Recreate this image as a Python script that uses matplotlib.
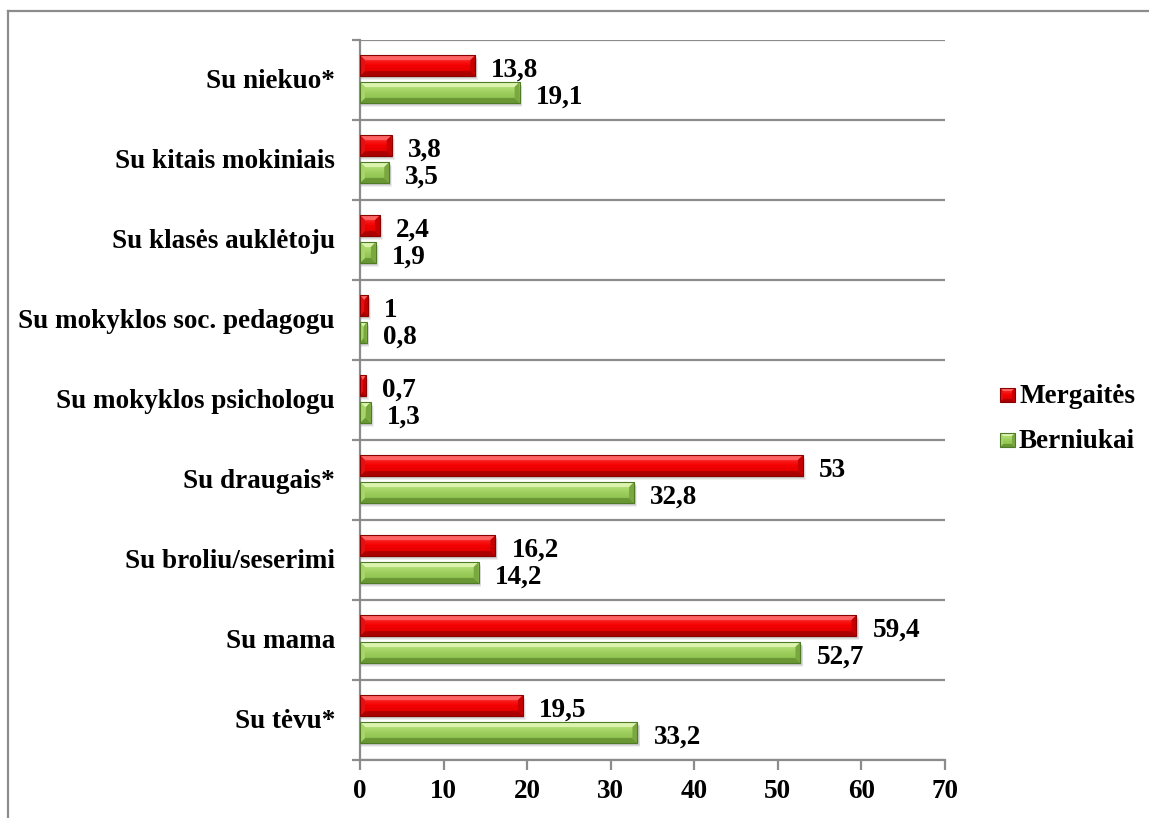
import matplotlib
matplotlib.use("Agg")
import matplotlib.pyplot as plt
import numpy as np
from matplotlib.patches import Polygon, Rectangle
from matplotlib.lines import Line2D
from matplotlib.colors import LinearSegmentedColormap

plt.rcParams['font.family'] = ['Liberation Serif', 'DejaVu Serif']
plt.rcParams['font.weight'] = 'bold'

categories = [
    "Su tėvu*",
    "Su mama",
    "Su broliu/seserimi",
    "Su draugais*",
    "Su mokyklos psichologu",
    "Su mokyklos soc. pedagogu",
    "Su klasės auklėtoju",
    "Su kitais mokiniais",
    "Su niekuo*",
]
mergaites = [19.5, 59.4, 16.2, 53, 0.7, 1, 2.4, 3.8, 13.8]
berniukai = [33.2, 52.7, 14.2, 32.8, 1.3, 0.8, 1.9, 3.5, 19.1]
series_names = ["Mergaitės", "Berniukai"]
x_ticks = [0, 10, 20, 30, 40, 50, 60, 70]

FS = 19.5
W, H = 1149, 818
fig = plt.figure(figsize=(W / 100, H / 100), dpi=100)
ax_l, ax_r, ax_t, ax_b = 360, 945, 40, 760
ax = fig.add_axes([ax_l / W, 1 - ax_b / H, (ax_r - ax_l) / W, (ax_b - ax_t) / H])

n = len(categories)
xmax = 70
ax.set_xlim(0, xmax)
ax.set_ylim(-0.5, n - 0.5)

# pixel -> data scale factors
px_x = xmax / (ax_r - ax_l)
px_y = n / (ax_b - ax_t)

bar_h = 0.262
off = 0.168
shift = 0.012

palettes = {
    "red": dict(body_top="#ff3a3a", body_mid="#f40000", body_bot="#d40000",
                top="#ff6a6a", bot="#a00000", right="#c40000", left="#e41010",
                edge="#8a0000"),
    "green": dict(body_top="#c6ea8c", body_mid="#9ccf5c", body_bot="#84b848",
                  top="#e0f6b4", bot="#628e2e", right="#7aa840", left="#a8d46a",
                  edge="#4f7a26"),
}


def bevel_box(target, x0, y0, w, h, bw, bh, pal, z):
    """Draw a bevelled rectangle with a vertical gradient body."""
    x1, y1 = x0 + w, y0 + h
    rect = Rectangle((x0, y0), w, h, facecolor="none", lw=0, zorder=z)
    target.add_patch(rect)
    cmap = LinearSegmentedColormap.from_list(
        "g", [pal["body_bot"], pal["body_mid"], pal["body_top"]])
    grad = np.linspace(0, 1, 64).reshape(-1, 1)
    im = target.imshow(grad, cmap=cmap, aspect="auto", origin="lower",
                       extent=(x0, x1, y0, y1), zorder=z, interpolation="bilinear")
    im.set_clip_path(rect)
    bw = min(bw, w / 2)
    faces = [
        ([(x0, y1), (x1, y1), (x1 - bw, y1 - bh), (x0 + bw, y1 - bh)], pal["top"], 0.9),
        ([(x0, y0), (x1, y0), (x1 - bw, y0 + bh), (x0 + bw, y0 + bh)], pal["bot"], 0.8),
        ([(x1, y1), (x1, y0), (x1 - bw, y0 + bh), (x1 - bw, y1 - bh)], pal["right"], 1.0),
        ([(x0, y1), (x0, y0), (x0 + bw, y0 + bh), (x0 + bw, y1 - bh)], pal["left"], 1.0),
    ]
    for pts, col, a in faces:
        target.add_patch(Polygon(pts, closed=True, facecolor=col, lw=0,
                                 zorder=z + 0.1, alpha=a))
    target.add_patch(Rectangle((x0, y0), w, h, facecolor="none",
                               edgecolor=pal["edge"], lw=0.8, zorder=z + 0.2))


def draw_bar(x_end, yc, pal):
    y0 = yc - bar_h / 2
    # soft shadow beneath the bar
    for k, a in ((4, 0.06), (3, 0.08), (2, 0.10)):
        ax.add_patch(Rectangle((0, y0 - k * px_y), x_end + k * 0.7 * px_x, bar_h,
                               facecolor="#000000", alpha=a, lw=0, zorder=2))
    bevel_box(ax, 0, y0, x_end, bar_h, 5 * px_x, 5 * px_y, pal, 3)


def fmt(v):
    return f"{v:g}".replace(".", ",")


for i in range(n):
    for val, yc, key in ((mergaites[i], i + shift + off, "red"),
                         (berniukai[i], i + shift - off, "green")):
        draw_bar(val, yc, palettes[key])
        ax.text(val + 16 * px_x, yc - 11 * px_y, fmt(val), ha="left", va="baseline",
                fontsize=FS, fontweight="bold", color="black", zorder=6)
    ax.text(-25 * px_x, i - 8 * px_y, categories[i], ha="right", va="baseline",
            fontsize=FS, fontweight="bold", color="black", clip_on=False)

# category separators
for b in np.arange(-0.5, n, 1.0):
    ax.axhline(b, color="#8c8c8c", lw=1.6, zorder=1)

ax.set_yticks(np.arange(-0.5, n, 1.0))
ax.set_yticklabels([])
ax.tick_params(axis="y", length=6, width=1.6, color="#8c8c8c")

ax.set_xticks(x_ticks)
ax.set_xticklabels([str(t) for t in x_ticks], fontsize=FS, fontweight="bold")
ax.tick_params(axis="x", length=7.5, width=1.6, color="#8c8c8c", pad=6)

for s in ("top", "right"):
    ax.spines[s].set_visible(False)
for s in ("left", "bottom"):
    ax.spines[s].set_color("#8c8c8c")
    ax.spines[s].set_linewidth(1.6)

# legend drawn in figure pixel space
lg = fig.add_axes([0, 0, 1, 1], facecolor="none")
lg.set_xlim(0, W)
lg.set_ylim(H, 0)
lg.axis("off")
legend_rows = [(series_names[0], palettes["red"], 403),
               (series_names[1], palettes["green"], 448)]
for name, pal, base in legend_rows:
    bevel_box(lg, 1000, base - 1, 15, -14, 3, -3, pal, 3)
    lg.text(1019, base, name, ha="left", va="baseline", fontsize=FS,
            fontweight="bold", color="black")

# outer frame lines
lg.add_line(Line2D([8, W], [10.5, 10.5], color="#8c8c8c", lw=1.6))
lg.add_line(Line2D([8, 8], [10.5, H], color="#8c8c8c", lw=1.6))

fig.savefig("out.png", dpi=100)
